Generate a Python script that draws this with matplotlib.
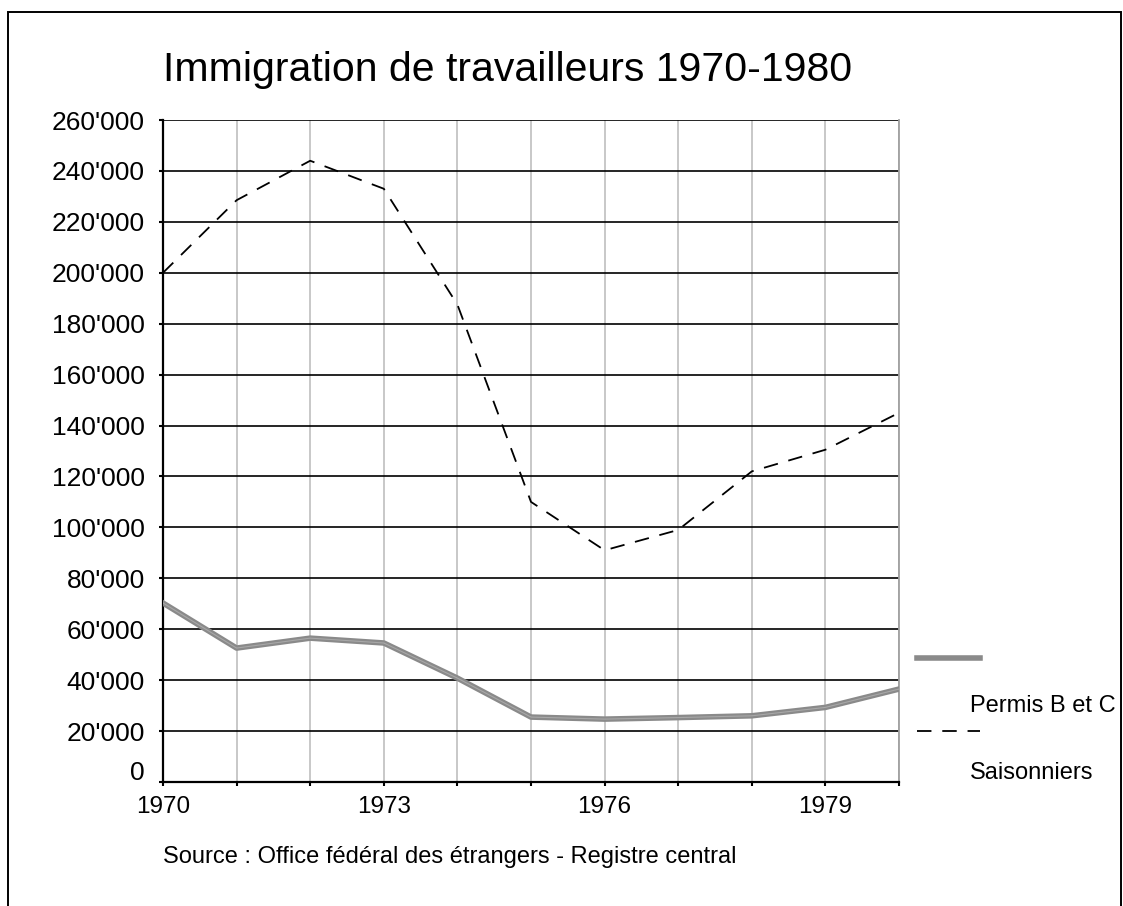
import matplotlib.pyplot as plt
from matplotlib.patches import Rectangle
from matplotlib.lines import Line2D
from matplotlib.ticker import FuncFormatter
from matplotlib.transforms import ScaledTranslation

plt.rcParams['font.family'] = ['Liberation Sans', 'DejaVu Sans']

years = list(range(1970, 1981))
permis = [70300, 52600, 56500, 54600, 40800, 25500, 24700, 25300, 26000, 29300, 36500]
saisonniers = [200000, 228500, 244000, 233000, 187500, 110000, 91000, 99000, 122000, 130500, 145000]
label_years = [1970, 1973, 1976, 1979]
yticks = list(range(0, 260001, 20000))

W, H = 1123, 906
fig = plt.figure(figsize=(W / 100, H / 100), dpi=100)
ax = fig.add_axes([163 / W, 1 - 782 / H, (899 - 163) / W, (782 - 120) / H])

# outer frame of the chart (bottom edge out of picture)
fig.add_artist(Rectangle((8 / W, -0.1), (1121 - 8) / W, 1 - 12 / H + 0.1,
                         transform=fig.transFigure, fill=False, lw=1.4, ec='black'))

ax.set_xlim(1970, 1980)
ax.set_ylim(0, 260000)

for y in yticks[1:]:
    ax.axhline(y, color='black', lw=1.2, zorder=1)
for x in years[1:]:
    ax.axvline(x, color='#c4c4c4', lw=1.3, zorder=0.5)

ax.plot(years, permis, color='#8a8a8a', lw=4, solid_joinstyle='round', zorder=3)
ax.plot(years, permis, color='#a8a8a8', lw=0.8, zorder=3.5)
ax.plot(years, saisonniers, color='black', lw=1.3, dashes=(8, 6), zorder=3)

ax.set_xticks(years)
ax.set_xticklabels([str(y) if y in label_years else '' for y in years])
ax.set_yticks(yticks)
ax.yaxis.set_major_formatter(FuncFormatter(lambda v, p: '0' if v == 0 else f"{int(v):,}".replace(',', "'")))
ax.tick_params(axis='both', direction='out', length=3, width=1.5)
ax.tick_params(axis='y', pad=10, labelsize=19)
ax.tick_params(axis='x', pad=7, labelsize=17.5)

# the "0" label sits a little higher in the original
fig.canvas.draw()
zero = ax.get_yticklabels()[0]
zero.set_transform(zero.get_transform() + ScaledTranslation(0, 12 / 100, fig.dpi_scale_trans))

ax.spines['top'].set_visible(False)
ax.spines['right'].set_color('#a0a0a0')
ax.spines['right'].set_linewidth(1.3)
ax.spines['left'].set_linewidth(1.6)
ax.spines['bottom'].set_linewidth(1.6)

fig.text(508 / W, 1 - 70 / H, 'Immigration de travailleurs 1970-1980', ha='center', va='center', fontsize=29.5)

# legend, drawn by hand
fig.add_artist(Line2D([917 / W, 980 / W], [1 - 658 / H] * 2, transform=fig.transFigure,
                      color='#8a8a8a', lw=4))
fig.add_artist(Line2D([917 / W, 980 / W], [1 - 731 / H] * 2, transform=fig.transFigure,
                      color='black', lw=1.3, dashes=(8, 6)))
fig.text(970 / W, 1 - 706 / H, 'Permis B et C', ha='left', va='center', fontsize=17)
fig.text(970 / W, 1 - 773 / H, 'Saisonniers', ha='left', va='center', fontsize=17)

fig.text(163 / W, 1 - 857 / H, 'Source : Office fédéral des étrangers - Registre central',
         ha='left', va='center', fontsize=17)

fig.savefig('out.png', dpi=100)
